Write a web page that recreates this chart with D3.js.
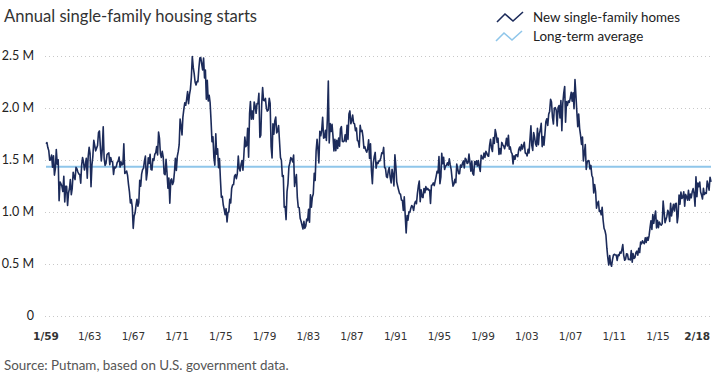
<!DOCTYPE html>
<html>
<head>
<meta charset="utf-8">
<script src="https://cdnjs.cloudflare.com/ajax/libs/d3/7.8.5/d3.min.js"></script>
<style>
  body { margin: 0; background: #fff; }
  text { font-family: Lato, "Open Sans", sans-serif; }
  .grid line { stroke: #c8c8c8; stroke-dasharray: 1 3; }
  .xlab { font-family: "DejaVu Sans", sans-serif; font-size: 10.5px; fill: #333; }
</style>
</head>
<body>
<script>
// monthly housing starts, thousands (SAAR), Jan 1959 - Feb 2018
var startYear = 1959
var starts = [
  1657, 1667, 1620, 1590, 1498, 1503, 1547, 1430, 1540, 1355, 1416, 1601, // 1959
  1460, 1503, 1109, 1289, 1271, 1247, 1197, 1344, 1097, 1246, 1246, 1063, // 1960
  1183, 1226, 1312, 1166, 1228, 1382, 1335, 1312, 1429, 1415, 1385, 1365, // 1961
  1361, 1278, 1443, 1524, 1483, 1404, 1450, 1517, 1324, 1533, 1622, 1564, // 1962
  1244, 1456, 1534, 1689, 1641, 1588, 1614, 1639, 1763, 1779, 1622, 1491, // 1963
  1603, 1820, 1517, 1448, 1467, 1550, 1562, 1569, 1455, 1524, 1486, 1484, // 1964
  1361, 1433, 1423, 1438, 1478, 1488, 1529, 1432, 1482, 1452, 1460, 1656, // 1965
  1370, 1378, 1394, 1352, 1265, 1194, 1086, 1119, 1046, 843, 961, 990,    // 1966
  1067, 1123, 1056, 1091, 1304, 1248, 1364, 1407, 1421, 1491, 1538, 1308, // 1967
  1380, 1520, 1466, 1554, 1408, 1405, 1512, 1495, 1556, 1569, 1630, 1548, // 1968
  1769, 1705, 1561, 1524, 1583, 1528, 1368, 1358, 1507, 1381, 1229, 1327, // 1969
  1085, 1305, 1319, 1264, 1290, 1385, 1517, 1399, 1534, 1580, 1647, 1893, // 1970
  1828, 1741, 1910, 1986, 2049, 2026, 2083, 2158, 2041, 2128, 2182, 2295, // 1971
  2494, 2390, 2334, 2249, 2221, 2254, 2252, 2382, 2481, 2485, 2421, 2366, // 1972
  2481, 2289, 2365, 2084, 2266, 2067, 2123, 2051, 1874, 1677, 1724, 1526, // 1973
  1451, 1752, 1555, 1607, 1426, 1513, 1316, 1142, 1150, 1070, 1026, 975,  // 1974
  1032, 904, 993, 1005, 1121, 1087, 1226, 1260, 1264, 1344, 1360, 1321,   // 1975
  1367, 1538, 1421, 1395, 1459, 1495, 1401, 1550, 1720, 1629, 1641, 1804, // 1976
  1527, 1943, 2063, 1892, 1971, 1893, 2058, 2020, 1949, 2042, 2042, 2142, // 1977
  1718, 1738, 2032, 2197, 2075, 2070, 2092, 1996, 1970, 1981, 2094, 2044, // 1978
  1630, 1520, 1847, 1748, 1876, 1913, 1760, 1778, 1832, 1681, 1524, 1498, // 1979
  1341, 1350, 1047, 1051, 927, 1196, 1269, 1436, 1471, 1523, 1510, 1482,  // 1980
  1547, 1246, 1306, 1360, 1140, 1045, 1041, 940, 911, 873, 837, 910,      // 1981
  843, 866, 931, 917, 1025, 902, 1166, 1046, 1144, 1173, 1372, 1303,      // 1982
  1586, 1699, 1606, 1472, 1776, 1733, 1785, 1910, 1710, 1715, 1785, 1688, // 1983
  1897, 2260, 1663, 1851, 1774, 1843, 1732, 1586, 1698, 1590, 1689, 1612, // 1984
  1711, 1632, 1800, 1821, 1680, 1676, 1684, 1743, 1676, 1834, 1698, 1942, // 1985
  1972, 1848, 1876, 1933, 1854, 1847, 1782, 1807, 1687, 1681, 1623, 1833, // 1986
  1774, 1784, 1726, 1614, 1628, 1594, 1575, 1605, 1695, 1515, 1656, 1400, // 1987
  1271, 1473, 1532, 1573, 1421, 1478, 1467, 1493, 1492, 1522, 1569, 1563, // 1988
  1621, 1425, 1422, 1339, 1331, 1397, 1427, 1332, 1279, 1410, 1351, 1251, // 1989
  1551, 1437, 1289, 1248, 1212, 1177, 1171, 1115, 1110, 1014, 1145, 969,  // 1990
  798, 965, 921, 1001, 996, 1036, 1063, 1049, 1015, 1079, 1103, 1079,     // 1991
  1176, 1250, 1297, 1099, 1214, 1145, 1139, 1226, 1186, 1244, 1214, 1227, // 1992
  1210, 1210, 1083, 1258, 1260, 1280, 1254, 1300, 1343, 1392, 1376, 1533, // 1993
  1272, 1337, 1564, 1465, 1526, 1409, 1439, 1450, 1474, 1450, 1511, 1455, // 1994
  1407, 1316, 1249, 1267, 1314, 1281, 1461, 1416, 1369, 1369, 1452, 1431, // 1995
  1467, 1491, 1424, 1516, 1504, 1467, 1472, 1557, 1475, 1392, 1489, 1370, // 1996
  1355, 1486, 1457, 1492, 1442, 1494, 1437, 1390, 1546, 1520, 1510, 1566, // 1997
  1525, 1584, 1567, 1540, 1536, 1641, 1698, 1614, 1582, 1715, 1660, 1792, // 1998
  1748, 1670, 1710, 1553, 1611, 1559, 1669, 1648, 1635, 1608, 1648, 1708, // 1999
  1636, 1737, 1604, 1626, 1575, 1559, 1463, 1541, 1507, 1549, 1551, 1532, // 2000
  1600, 1625, 1590, 1649, 1605, 1636, 1670, 1567, 1562, 1540, 1602, 1568, // 2001
  1698, 1829, 1642, 1592, 1764, 1717, 1655, 1633, 1804, 1648, 1753, 1788, // 2002
  1853, 1629, 1726, 1643, 1751, 1867, 1897, 1833, 1939, 1967, 2083, 2057, // 2003
  1911, 1846, 1998, 2003, 1981, 1828, 2002, 2024, 1905, 2072, 1782, 2042, // 2004
  2144, 2207, 1864, 2061, 2025, 2068, 2054, 2095, 2151, 2065, 2147, 1994, // 2005
  2273, 2119, 1969, 1821, 1942, 1802, 1737, 1650, 1720, 1491, 1570, 1649, // 2006
  1409, 1480, 1495, 1490, 1415, 1448, 1354, 1330, 1183, 1264, 1197, 1037, // 2007
  1084, 1103, 1005, 1013, 973, 1046, 923, 844, 820, 777, 652, 560,        // 2008
  490, 582, 505, 478, 540, 585, 594, 586, 585, 534, 588, 581,             // 2009
  614, 604, 636, 687, 583, 536, 546, 599, 594, 543, 545, 539,             // 2010
  630, 517, 600, 554, 561, 608, 623, 585, 650, 610, 711, 694,             // 2011
  723, 704, 695, 753, 708, 757, 728, 770, 847, 915, 833, 976,             // 2012
  891, 960, 1010, 847, 919, 849, 904, 883, 873, 889, 1105, 1003,          // 2013
  897, 928, 957, 1017, 992, 910, 1084, 962, 1025, 1074, 1009, 1080,       // 2014
  1083, 896, 961, 1162, 1076, 1192, 1130, 1140, 1194, 1056, 1169, 1146,   // 2015
  1114, 1208, 1113, 1173, 1137, 1194, 1225, 1176, 1055, 1338, 1148, 1279, // 2016
  1244, 1289, 1192, 1163, 1125, 1227, 1168, 1185, 1179, 1298, 1257, 1210, // 2017
  1334, 1290                                                              // 2018
]
var longTermAvg = 1436
var yTicks = [0, 0.5, 1.0, 1.5, 2.0, 2.5]
var xLabels = ['1/59', '1/63', '1/67', '1/71', '1/75', '1/79', '1/83', '1/87',
  '1/91', '1/95', '1/99', '1/03', '1/07', '1/11', '1/15']
var lastLabel = '2/18'
var seriesNames = ['New single-family homes', 'Long-term average']
var seriesColors = ['#1c2b5a', '#8fc6ea']

var width = 720
var height = 384
var margin = {top: 56, right: 10, bottom: 68, left: 46}

var svg = d3.select('body').append('svg')
  .attr('width', width)
  .attr('height', height)

var data = starts.map(function(v, i) {
  return {date: new Date(startYear, i, 1), value: v / 1000}
})

var x = d3.scaleTime()
  .domain([data[0].date, data[data.length - 1].date])
  .range([margin.left, width - 9])

var y = d3.scaleLinear()
  .domain([0, 2.5])
  .range([height - margin.bottom, margin.top])

// dotted gridlines
svg.append('g')
  .attr('class', 'grid')
  .selectAll('line')
  .data(yTicks)
  .enter().append('line')
    .attr('x1', 45)
    .attr('x2', 710)
    .attr('y1', function(d) { return y(d) + 0.5 })
    .attr('y2', function(d) { return y(d) + 0.5 })

// y labels
svg.append('g')
  .selectAll('text')
  .data(yTicks)
  .enter().append('text')
    .attr('x', 34)
    .attr('y', function(d) { return y(d) })
    .attr('dy', '0.35em')
    .attr('text-anchor', 'end')
    .style('font-size', '12.5px')
    .style('fill', '#222')
    .text(function(d) { return d === 0 ? '0' : d.toFixed(1) + ' M' })

// x labels (evenly spaced category labels)
var xl = d3.scalePoint()
  .domain(xLabels)
  .range([46, 658])

svg.append('g')
  .selectAll('text')
  .data(xLabels)
  .enter().append('text')
    .attr('class', 'xlab')
    .attr('x', function(d) { return xl(d) })
    .attr('y', 340)
    .attr('text-anchor', 'middle')
    .style('font-weight', function(d, i) { return i === 0 ? 'bold' : 'normal' })
    .text(function(d) { return d })

svg.append('text')
  .attr('class', 'xlab')
  .attr('x', 710)
  .attr('y', 340)
  .attr('text-anchor', 'end')
  .style('font-weight', 'bold')
  .text(lastLabel)

// long-term average
svg.append('line')
  .attr('x1', x(data[0].date))
  .attr('x2', x(data[data.length - 1].date))
  .attr('y1', y(longTermAvg / 1000))
  .attr('y2', y(longTermAvg / 1000))
  .style('stroke', seriesColors[1])
  .style('stroke-width', 2)

// main line
var line = d3.line()
  .x(function(d) { return x(d.date) })
  .y(function(d) { return y(d.value) })

svg.append('path')
  .datum(data)
  .attr('d', line)
  .style('fill', 'none')
  .style('stroke', seriesColors[0])
  .style('stroke-width', 1.6)
  .style('stroke-linejoin', 'round')

// title
svg.append('text')
  .attr('x', 4)
  .attr('y', 22)
  .style('font-size', '16.6px')
  .style('fill', '#333')
  .text('Annual single-family housing starts')

// legend
var legend = svg.append('g')
  .selectAll('g')
  .data(seriesNames)
  .enter().append('g')
    .attr('transform', function(d, i) { return 'translate(' + (497 - i) + ',' + (12 + i * 19) + ')' })

legend.append('path')
  .attr('d', 'M0,10L8,2L16,9L26,0')
  .style('fill', 'none')
  .style('stroke', function(d, i) { return seriesColors[i] })
  .style('stroke-width', 1.6)

legend.append('text')
  .attr('x', function(d, i) { return 36 + i })
  .attr('y', 10)
  .style('font-size', '13.4px')
  .style('fill', '#222')
  .text(function(d) { return d })

// source note
svg.append('text')
  .attr('x', 4)
  .attr('y', 370)
  .style('font-size', '13.4px')
  .style('fill', '#555')
  .text('Source: Putnam, based on U.S. government data.')
</script>
</body>
</html>
